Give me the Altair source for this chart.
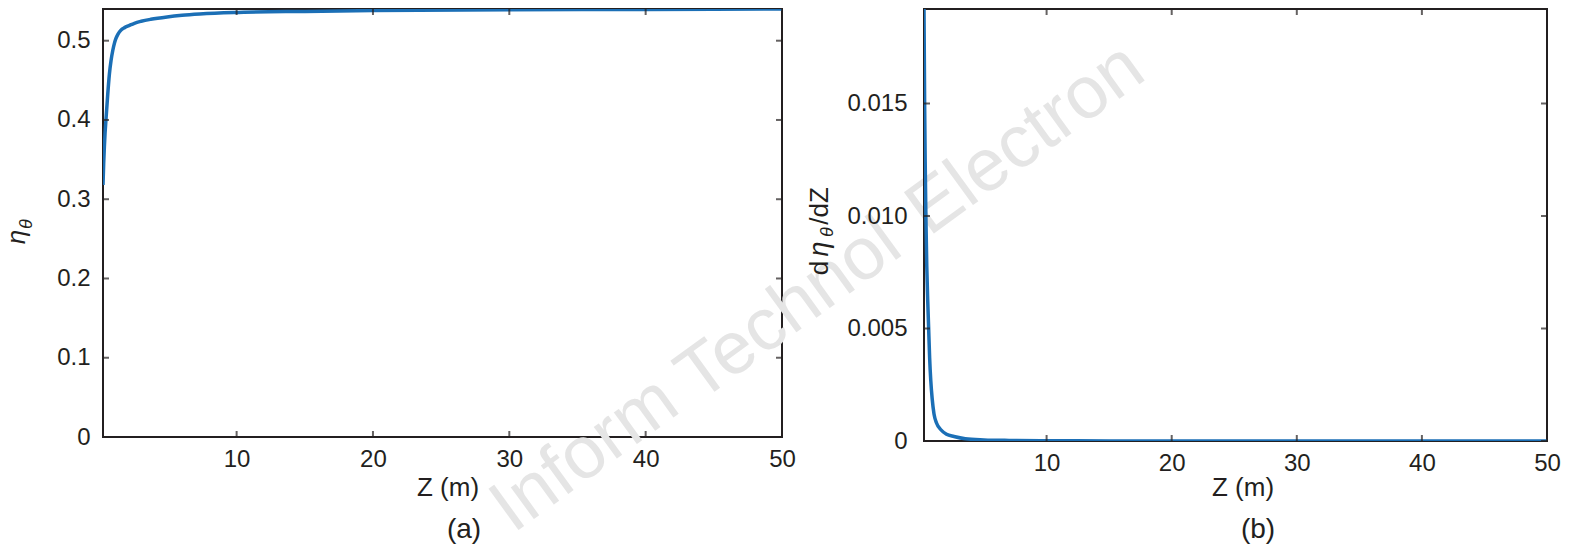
import altair as alt
import pandas as pd

# ---------------- data ----------------
z_a = [0.2, 0.25, 0.3, 0.35, 0.42, 0.55, 0.67, 0.79, 0.92, 1.04, 1.15, 1.29,
       1.5, 1.78, 2.1, 2.5, 3.0, 3.7, 4.9, 6.0, 7.3, 9.8, 15, 20, 30, 40, 50]
eta = [0.318, 0.345, 0.366, 0.383, 0.401, 0.433, 0.458, 0.475, 0.488, 0.497,
       0.503, 0.508, 0.513, 0.5165, 0.519, 0.522, 0.5245, 0.527, 0.530,
       0.532, 0.5336, 0.5355, 0.537, 0.538, 0.539, 0.5395, 0.540]

z_b = [0.2, 0.25, 0.3, 0.35, 0.42, 0.5, 0.56, 0.65, 0.74, 0.85, 1.0, 1.2,
       1.55, 2.0, 2.6, 3.5, 5, 7, 10, 15, 20, 30, 40, 50]
deta = [0.0192, 0.0150, 0.0122, 0.0100, 0.0078, 0.0062, 0.0052, 0.0037,
        0.0027, 0.0019, 0.0012, 0.0008, 0.0005, 0.0003, 0.0002, 0.0001,
        0.00005, 0.000025, 0.000012, 0.000005, 0.000003, 0.0000015,
        0.000001, 0.0000006]

x_ticks = [10, 20, 30, 40, 50]
ya_ticks = [0, 0.1, 0.2, 0.3, 0.4, 0.5]
yb_ticks = [0, 0.005, 0.010, 0.015]

x_domain = [0.2, 50]
ya_domain = [0, 0.54]
yb_domain = [0, 0.0192]

watermark_words = ["Inform", "Technol", "Electron"]

# ---------------- style ----------------
DARK = "#231f20"
BLUE = "#1b6fb6"
FONT = "Liberation Sans"
WM = "#e5e5e5"

W_A, H_A = 679, 428
W_B, H_B = 623, 432


def frame_ticks(xs, ys, ax, ay, xmin, xmax, ymax, yticks):
    xt = pd.DataFrame({"t": x_ticks})
    yt = pd.DataFrame({"t": yticks})
    tk = dict(size=12, thickness=2, color=DARK, clip=True)
    bottom = alt.Chart(xt).mark_tick(orient="vertical", **tk).encode(
        x=alt.X("t:Q", scale=xs, axis=ax), y=alt.Y(datum=0, scale=ys, axis=ay))
    top = alt.Chart(xt).mark_tick(orient="vertical", **tk).encode(
        x=alt.X("t:Q", scale=xs, axis=ax), y=alt.Y(datum=ymax, scale=ys, axis=ay))
    left = alt.Chart(yt).mark_tick(orient="horizontal", **tk).encode(
        y=alt.Y("t:Q", scale=ys, axis=ay), x=alt.X(datum=xmin, scale=xs, axis=ax))
    right = alt.Chart(yt).mark_tick(orient="horizontal", **tk).encode(
        y=alt.Y("t:Q", scale=ys, axis=ay), x=alt.X(datum=xmax, scale=xs, axis=ax))
    return [bottom, top, left, right]


def text_layer(txt, x, y, size, angle=0, italic=False, align="center",
               baseline="middle", color=DARK):
    kw = dict(text=txt, fontSize=size, font=FONT, color=color, align=align,
              baseline=baseline)
    if angle:
        kw["angle"] = angle
    if italic:
        kw["fontStyle"] = "italic"
    return alt.Chart(pd.DataFrame({"k": [0]})).mark_text(**kw).encode(
        x=alt.value(x), y=alt.value(y))


def xaxis():
    return alt.Axis(values=x_ticks, title=None, ticks=False, domain=False,
                    grid=False, labelFontSize=24, labelFont=FONT,
                    labelColor=DARK, labelPadding=10, labelFlush=False)


# ---------------- panel (a) ----------------
xs_a = alt.Scale(domain=x_domain, nice=False, zero=False)
ys_a = alt.Scale(domain=ya_domain, nice=False, zero=False)
ax_a = xaxis()
ay_a = alt.Axis(values=ya_ticks, title=None, ticks=False, domain=False,
                grid=False, labelFontSize=24, labelFont=FONT, labelColor=DARK,
                labelPadding=13, labelFlush=False,
                labelExpr="datum.value == 0 ? '0' : format(datum.value, '.1f')")

df_a = pd.DataFrame({"z": z_a, "v": eta})
line_a = alt.Chart(df_a).mark_line(color=BLUE, strokeWidth=3.5, clip=True,
                                   interpolate="monotone").encode(
    x=alt.X("z:Q", scale=xs_a, axis=ax_a),
    y=alt.Y("v:Q", scale=ys_a, axis=ay_a))

# watermark (placed along a slanted line crossing both panels)
wm_pos = [(410, 525), (596, 394), (826, 228)]
wm_layers = [text_layer(w, x, y, 74, angle=324, align="left",
                        baseline="alphabetic", color=WM)
             for w, (x, y) in zip(watermark_words, wm_pos)]

titles_a = [
    text_layer("η", -78, 228, 26, angle=270, italic=True, baseline="alphabetic"),
    text_layer("θ", -71, 215, 18, angle=270, italic=True, baseline="alphabetic"),
    text_layer("Z (m)", 345, 479, 26),
    text_layer("(a)", 361, 521, 28),
]

panel_a = alt.layer(
    *wm_layers, line_a,
    *frame_ticks(xs_a, ys_a, ax_a, ay_a, x_domain[0], x_domain[1],
                 ya_domain[1], ya_ticks),
    *titles_a
).properties(width=W_A, height=H_A)

# ---------------- panel (b) ----------------
xs_b = alt.Scale(domain=x_domain, nice=False, zero=False)
ys_b = alt.Scale(domain=yb_domain, nice=False, zero=False)
ax_b = xaxis()
ay_b = alt.Axis(values=yb_ticks, title=None, ticks=False, domain=False,
                grid=False, labelFontSize=24, labelFont=FONT, labelColor=DARK,
                labelPadding=17, labelFlush=False,
                labelExpr="datum.value == 0 ? '0' : format(datum.value, '.3f')")

df_b = pd.DataFrame({"z": z_b, "v": deta})
line_b = alt.Chart(df_b).mark_line(color=BLUE, strokeWidth=3.5, clip=True,
                                   interpolate="monotone").encode(
    x=alt.X("z:Q", scale=xs_b, axis=ax_b),
    y=alt.Y("v:Q", scale=ys_b, axis=ay_b))

titles_b = [
    text_layer("d", -96, 259, 26, angle=270, baseline="alphabetic"),
    text_layer("η", -96, 240, 27, angle=270, italic=True, baseline="alphabetic"),
    text_layer("θ", -91, 223, 18, angle=270, italic=True, baseline="alphabetic"),
    text_layer("/dZ", -96, 197, 26, angle=270, baseline="alphabetic"),
    text_layer("Z (m)", 319, 479, 26),
    text_layer("(b)", 334, 521, 28),
]

panel_b = alt.layer(
    line_b,
    *frame_ticks(xs_b, ys_b, ax_b, ay_b, x_domain[0], x_domain[1],
                 yb_domain[1], yb_ticks),
    *titles_b
).properties(width=W_B, height=H_B)

chart = alt.hconcat(panel_a, panel_b, spacing=142, bounds="flush").properties(
    padding={"left": 3, "top": 8, "right": 10, "bottom": 0},
    background="white",
).configure_view(stroke=DARK, strokeWidth=2)

chart.save("out.html", embed_options={"renderer": "svg", "actions": False})
